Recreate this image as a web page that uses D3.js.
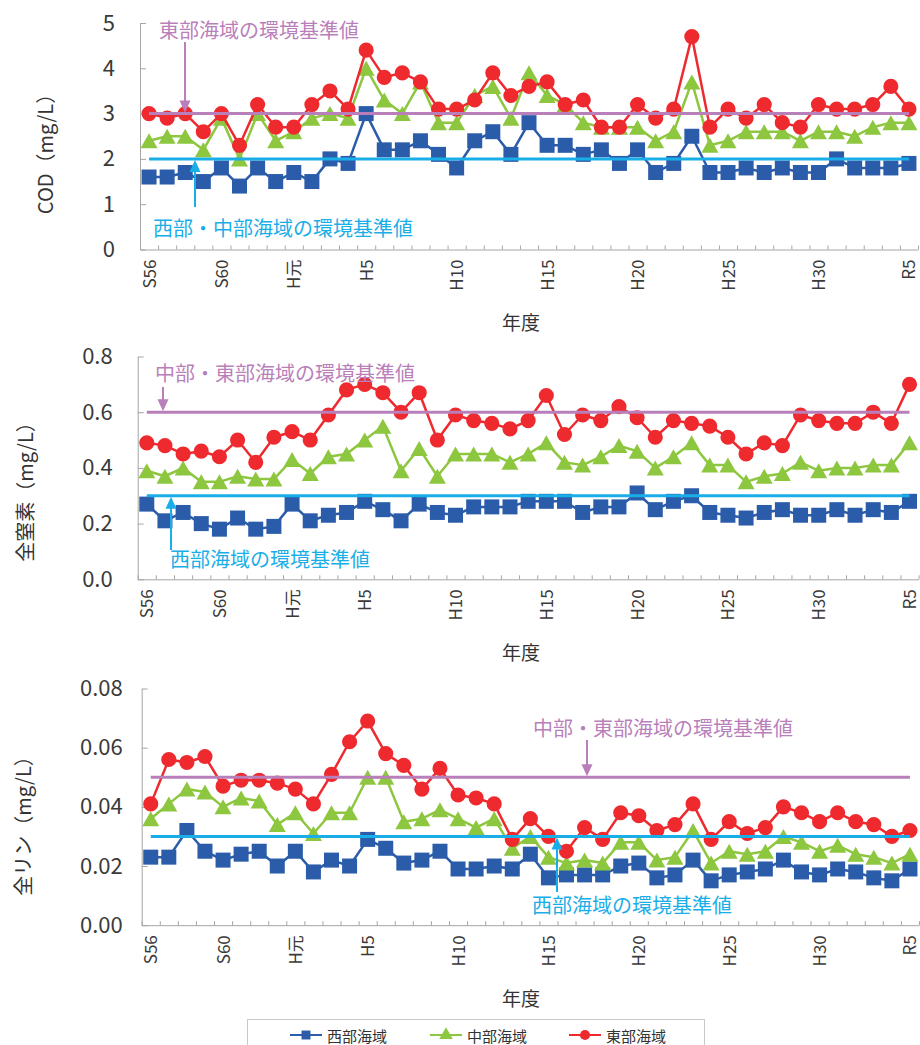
<!DOCTYPE html>
<html>
<head>
<meta charset="utf-8">
<script src="https://cdn.jsdelivr.net/npm/d3@7"></script>
<style>
  body { margin: 0; background: #fff; }
  text { font-family: "Noto Sans CJK JP", "Noto Sans", sans-serif; }
</style>
</head>
<body>
<div id="main"></div>
<script>
// 年度 (S56 = 1981 ... R5 = 2023)
const years = ["S56","S57","S58","S59","S60","S61","S62","S63","H元","H2","H3","H4","H5","H6","H7","H8","H9",
  "H10","H11","H12","H13","H14","H15","H16","H17","H18","H19","H20","H21","H22","H23","H24","H25","H26",
  "H27","H28","H29","H30","R元","R2","R3","R4","R5"];
const yearLabels = ["S56","S60","H元","H5","H10","H15","H20","H25","H30","R5"];
const areaNames = ["西部海域","中部海域","東部海域"];

// COD (mg/L)
const codWest = [1.6,1.6,1.7,1.5,1.8,1.4,1.8,1.5,1.7,1.5,2.0,1.9,3.0,2.2,2.2,2.4,2.1,1.8,2.4,2.6,2.1,2.8,2.3,2.3,2.1,2.2,1.9,2.2,1.7,1.9,2.5,1.7,1.7,1.8,1.7,1.8,1.7,1.7,2.0,1.8,1.8,1.8,1.9];
const codMid = [2.4,2.5,2.5,2.2,2.9,2.0,3.0,2.4,2.6,2.9,3.0,2.9,4.0,3.3,3.0,3.7,2.8,2.8,3.4,3.6,2.9,3.9,3.4,3.2,2.8,2.7,2.7,2.7,2.4,2.6,3.7,2.3,2.4,2.6,2.6,2.6,2.4,2.6,2.6,2.5,2.7,2.8,2.8];
const codEast = [3.0,2.9,3.0,2.6,3.0,2.3,3.2,2.7,2.7,3.2,3.5,3.1,4.4,3.8,3.9,3.7,3.1,3.1,3.3,3.9,3.4,3.6,3.7,3.2,3.3,2.7,2.7,3.2,2.9,3.1,4.7,2.7,3.1,2.9,3.2,2.8,2.7,3.2,3.1,3.1,3.2,3.6,3.1];
const codTicks = [0,1,2,3,4,5];
const codStandards = [3, 2]; // 東部, 西部・中部

// 全窒素 (mg/L)
const tnWest = [0.27,0.21,0.24,0.20,0.18,0.22,0.18,0.19,0.27,0.21,0.23,0.24,0.28,0.25,0.21,0.27,0.24,0.23,0.26,0.26,0.26,0.28,0.28,0.28,0.24,0.26,0.26,0.31,0.25,0.28,0.30,0.24,0.23,0.22,0.24,0.25,0.23,0.23,0.25,0.23,0.25,0.24,0.28];
const tnMid = [0.39,0.37,0.40,0.35,0.35,0.37,0.36,0.36,0.43,0.38,0.44,0.45,0.50,0.55,0.39,0.47,0.37,0.45,0.45,0.45,0.42,0.45,0.49,0.42,0.41,0.44,0.48,0.46,0.40,0.44,0.49,0.41,0.41,0.35,0.37,0.38,0.42,0.39,0.40,0.40,0.41,0.41,0.49];
const tnEast = [0.49,0.48,0.45,0.46,0.44,0.50,0.42,0.51,0.53,0.50,0.59,0.68,0.70,0.67,0.60,0.67,0.50,0.59,0.57,0.56,0.54,0.57,0.66,0.52,0.59,0.57,0.62,0.58,0.51,0.57,0.56,0.55,0.51,0.45,0.49,0.48,0.59,0.57,0.56,0.56,0.60,0.56,0.70];
const tnTicks = [0,0.2,0.4,0.6,0.8];
const tnStandards = [0.6, 0.3]; // 中部・東部, 西部

// 全リン (mg/L)
const tpWest = [0.023,0.023,0.032,0.025,0.022,0.024,0.025,0.020,0.025,0.018,0.022,0.020,0.029,0.026,0.021,0.022,0.025,0.019,0.019,0.020,0.019,0.024,0.016,0.017,0.017,0.017,0.020,0.021,0.016,0.017,0.022,0.015,0.017,0.018,0.019,0.022,0.018,0.017,0.019,0.018,0.016,0.015,0.019];
const tpMid = [0.036,0.041,0.046,0.045,0.040,0.043,0.042,0.034,0.038,0.031,0.038,0.038,0.050,0.050,0.035,0.036,0.039,0.036,0.033,0.036,0.026,0.030,0.023,0.021,0.022,0.021,0.028,0.028,0.022,0.023,0.032,0.021,0.025,0.024,0.025,0.030,0.028,0.025,0.027,0.024,0.023,0.021,0.024];
const tpEast = [0.041,0.056,0.055,0.057,0.047,0.049,0.049,0.048,0.046,0.041,0.051,0.062,0.069,0.058,0.054,0.046,0.053,0.044,0.043,0.041,0.029,0.036,0.030,0.025,0.033,0.029,0.038,0.037,0.032,0.034,0.041,0.029,0.035,0.031,0.033,0.040,0.038,0.035,0.038,0.035,0.034,0.030,0.032];
const tpTicks = [0,0.02,0.04,0.06,0.08];
const tpStandards = [0.05, 0.03]; // 中部・東部, 西部

const colors = ["#2a5caa", "#8dc63f", "#ee2a2f"];
const purple = "#b97fba", cyan = "#1aaee8";
const axisColor = "#a6a6a6";

const svgWidth = 920, svgHeight = 1045;
var svg = d3.select("#main").append("svg")
  .attr("width", svgWidth)
  .attr("height", svgHeight);

// marker shapes (centered on the bounding box like the original)
const triangleType = {
  draw: function (ctx, size) {
    ctx.moveTo(0, -7.5); ctx.lineTo(8.5, 7.5); ctx.lineTo(-8.5, 7.5); ctx.closePath();
  }
};
const markers = [
  d3.symbol().type(d3.symbolSquare).size(225),
  d3.symbol().type(triangleType),
  d3.symbol().type(d3.symbolCircle).size(180)
];

function arrow(g, x, yFrom, yTip, color) {
  var dir = yTip > yFrom ? 1 : -1;
  g.append("line")
    .attr("x1", x).attr("x2", x)
    .attr("y1", yFrom).attr("y2", yTip - dir * 10)
    .attr("stroke", color).attr("stroke-width", 2);
  g.append("path")
    .attr("d", "M" + x + "," + yTip + "L" + (x - 5.5) + "," + (yTip - dir * 12) + "L" + (x + 5.5) + "," + (yTip - dir * 12) + "Z")
    .attr("fill", color);
}

function drawPanel(p) {
  var g = svg.append("g");
  var x = d3.scaleBand().domain(years).range([p.left, p.right]);
  var cx = d => x(d) + x.bandwidth() / 2;
  var y = d3.scaleLinear().domain([0, p.max]).range([p.y0, p.y1]);
  var xEdges = d3.scaleLinear().domain([0, years.length]).range([p.left, p.right]);

  // y axis (ticks inside)
  var yAxis = d3.axisLeft(y)
    .tickValues(p.ticks)
    .tickSizeInner(-6).tickSizeOuter(0)
    .tickPadding(p.pad)
    .tickFormat(d3.format(p.fmt));
  var ya = g.append("g").attr("transform", "translate(" + p.left + ",0)").call(yAxis);
  ya.select(".domain").attr("stroke", axisColor);
  ya.selectAll(".tick line").attr("stroke", axisColor);
  ya.selectAll(".tick text")
    .attr("font-size", 22).attr("fill", "#3a3a3a")
    .attr("font-family", "\"Noto Sans CJK JP\", sans-serif");

  // x axis: ticks on category edges
  var xAxis = d3.axisBottom(xEdges)
    .tickValues(d3.range(0, years.length + 1))
    .tickSizeInner(-4).tickSizeOuter(0)
    .tickFormat("");
  var xa = g.append("g").attr("transform", "translate(0," + p.y0 + ")").call(xAxis);
  xa.select(".domain").attr("stroke", axisColor);
  xa.selectAll(".tick line").attr("stroke", axisColor);

  g.selectAll("text.xlab")
    .data(yearLabels)
    .enter()
    .append("text")
    .attr("class", "xlab")
    .attr("transform", d => "translate(" + (cx(d) - 1) + "," + (p.y0 + 10) + ") rotate(-90)")
    .attr("text-anchor", "end")
    .attr("dominant-baseline", "central")
    .attr("font-size", 17)
    .attr("fill", "#3a3a3a")
    .text(d => d);

  g.append("text")
    .attr("x", 521).attr("y", p.y0 + 72)
    .attr("text-anchor", "middle").attr("dominant-baseline", "central")
    .attr("font-size", 19).attr("fill", "#333")
    .text("年度");

  g.append("text")
    .attr("transform", "translate(" + p.titleX + "," + p.titleY + ") rotate(-90)")
    .attr("text-anchor", "middle").attr("dominant-baseline", "central")
    .attr("font-size", 20).attr("fill", "#333")
    .text(p.title);

  // series
  var line = d3.line().x((d, i) => cx(years[i])).y(d => y(d));
  p.series.forEach(function (vals, k) {
    var sg = g.append("g");
    sg.append("path")
      .attr("d", line(vals))
      .attr("fill", "none")
      .attr("stroke", colors[k])
      .attr("stroke-width", 2.5)
      .attr("stroke-linejoin", "round");
    sg.selectAll("path.mk")
      .data(vals)
      .enter()
      .append("path")
      .attr("class", "mk")
      .attr("d", markers[k])
      .attr("transform", (d, i) => "translate(" + cx(years[i]) + "," + y(d) + ")")
      .attr("fill", colors[k]);
  });

  // environmental standard lines
  var xs = cx(years[0]), xe = cx(years[years.length - 1]);
  [[p.std[0], purple], [p.std[1], cyan]].forEach(function (s) {
    g.append("line")
      .attr("x1", xs).attr("x2", xe)
      .attr("y1", y(s[0])).attr("y2", y(s[0]))
      .attr("stroke", s[1]).attr("stroke-width", 3);
  });

  // annotations
  g.append("text")
    .attr("x", p.noteA.x).attr("y", p.noteA.y)
    .attr("dominant-baseline", "central")
    .attr("font-size", 20).attr("fill", purple)
    .text(p.noteA.text);
  arrow(g, p.noteA.ax, p.noteA.ay, y(p.std[0]) - 1, purple);

  g.append("text")
    .attr("x", p.noteB.x).attr("y", p.noteB.y)
    .attr("dominant-baseline", "central")
    .attr("font-size", 20).attr("fill", cyan)
    .text(p.noteB.text);
  arrow(g, p.noteB.ax, p.noteB.ay, y(p.std[1]) + 1, cyan);
}

drawPanel({
  left: 140, right: 918, y0: 249.5, y1: 23, max: 5, ticks: codTicks, fmt: "d", pad: 25,
  title: "COD（mg/L）", titleX: 44, titleY: 149,
  series: [codWest, codMid, codEast], std: codStandards,
  noteA: { text: "東部海域の環境基準値", x: 159, y: 29, ax: 185, ay: 42 },
  noteB: { text: "西部・中部海域の環境基準値", x: 153, y: 227, ax: 195, ay: 207 }
});

drawPanel({
  left: 137.7, right: 918.6, y0: 579.3, y1: 356.5, max: 0.8, ticks: tnTicks, fmt: ".1f", pad: 25,
  title: "全窒素（mg/L）", titleX: 24, titleY: 487,
  series: [tnWest, tnMid, tnEast], std: tnStandards,
  noteA: { text: "中部・東部海域の環境基準値", x: 155, y: 372, ax: 163, ay: 387 },
  noteB: { text: "西部海域の環境基準値", x: 170, y: 558, ax: 171, ay: 550 }
});

drawPanel({
  left: 141.7, right: 919, y0: 925.2, y1: 688.5, max: 0.08, ticks: tpTicks, fmt: ".2f", pad: 19,
  title: "全リン（mg/L）", titleX: 22, titleY: 821,
  series: [tpWest, tpMid, tpEast], std: tpStandards,
  noteA: { text: "中部・東部海域の環境基準値", x: 533, y: 727, ax: 587, ay: 740 },
  noteB: { text: "西部海域の環境基準値", x: 532, y: 904, ax: 557, ay: 892 }
});

// legend
var legend = svg.append("g");
legend.append("rect")
  .attr("x", 247.5).attr("y", 1019.5)
  .attr("width", 457).attr("height", 40)
  .attr("fill", "#fff").attr("stroke", "#c8c8c8");
const legX = [290, 430, 569];
areaNames.forEach(function (name, k) {
  var lx = legX[k], ly = 1035;
  legend.append("line")
    .attr("x1", lx).attr("x2", lx + 32)
    .attr("y1", ly).attr("y2", ly)
    .attr("stroke", colors[k]).attr("stroke-width", 2);
  legend.append("path")
    .attr("d", d3.symbol().type([d3.symbolSquare, d3.symbolTriangle, d3.symbolCircle][k]).size(80))
    .attr("transform", "translate(" + (lx + 16) + "," + ly + ")")
    .attr("fill", colors[k]);
  legend.append("text")
    .attr("x", lx + 37).attr("y", ly)
    .attr("dominant-baseline", "central")
    .attr("font-size", 15).attr("fill", "#333")
    .text(name);
});
</script>
</body>
</html>
